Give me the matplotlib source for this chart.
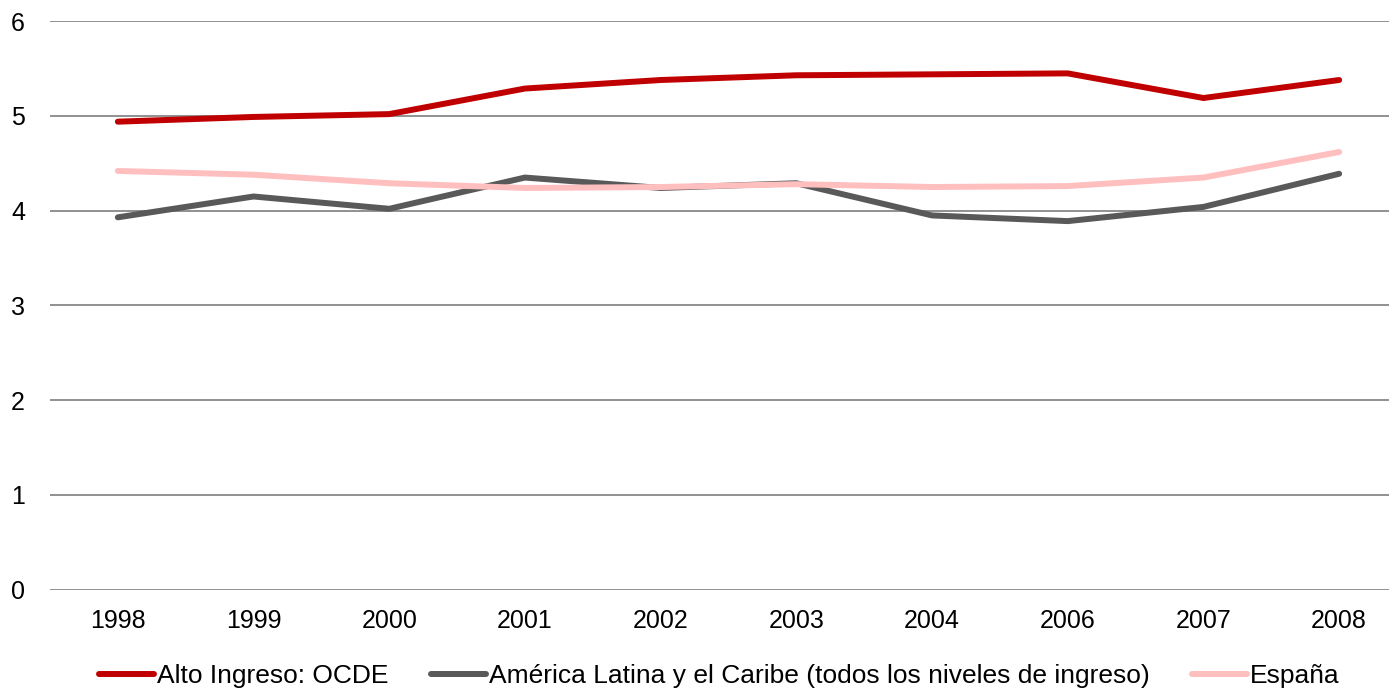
import numpy as np
import matplotlib
matplotlib.use("Agg")
import matplotlib.pyplot as plt

years = ['1998', '1999', '2000', '2001', '2002', '2003', '2004', '2006', '2007', '2008']
alto_ingreso = [4.94, 4.99, 5.02, 5.29, 5.38, 5.43, 5.44, 5.45, 5.19, 5.38]
america_latina = [3.93, 4.15, 4.02, 4.35, 4.24, 4.29, 3.95, 3.89, 4.04, 4.39]
espana = [4.42, 4.38, 4.29, 4.24, 4.25, 4.28, 4.25, 4.26, 4.35, 4.62]

series_names = ['Alto Ingreso: OCDE',
                'América Latina y el Caribe (todos los niveles de ingreso)',
                'España']
series_colors = ['#C00000', '#595959', '#FFBFBF']

plt.rcParams['font.family'] = ['Liberation Sans', 'DejaVu Sans']

fig = plt.figure(figsize=(13.89, 6.90), dpi=100)
# plot area runs a little past the right edge, as in the original crop
ax = fig.add_axes([50/1389, 1 - 589.5/690, 1357/1389, (589.5 - 21.3)/690])

x = np.arange(len(years))
for vals, name, col in zip([alto_ingreso, america_latina, espana], series_names, series_colors):
    ax.plot(x, vals, color=col, lw=4.3, label=name, solid_capstyle='round',
            solid_joinstyle='round', zorder=3)

ax.set_xlim(-0.5, len(years) - 0.5)
ax.set_ylim(0, 6)
ax.set_yticks(range(0, 7))
ax.set_xticks(x)
ax.set_xticklabels(years)
ax.yaxis.grid(True, color='#888888', lw=1.3)
ax.set_axisbelow(True)
ax.tick_params(axis='both', length=0, labelsize=18)
ax.tick_params(axis='x', pad=14)
ax.tick_params(axis='y', pad=18)
for s in ax.spines.values():
    s.set_visible(False)

fig.legend(loc='center', bbox_to_anchor=(719/1389, 1 - 676/690), ncol=3,
           frameon=False, fontsize=19, handlelength=2.1, handletextpad=0.1,
           columnspacing=1.6)

fig.savefig('out.png', dpi=100, facecolor='white')
